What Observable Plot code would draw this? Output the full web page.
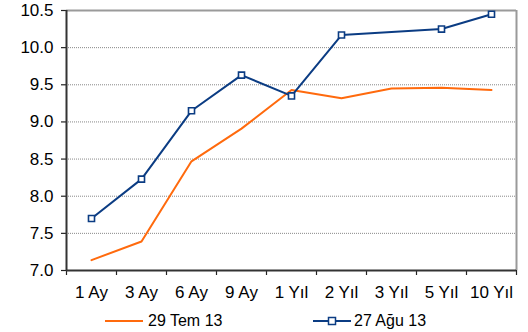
<!DOCTYPE html>
<html><head><meta charset="utf-8">
<script src="https://cdn.jsdelivr.net/npm/d3@7"></script>
<script src="https://cdn.jsdelivr.net/npm/@observablehq/plot@0.6"></script>
<style>
body{margin:0;background:#fff;font-family:Arial,"Liberation Sans",sans-serif;}
#chart{width:528px;height:332px;position:relative;}
svg{display:block;}
#legend{position:relative;height:27px;font-size:16px;color:#000;}
.li{position:absolute;top:2px;height:27px;display:flex;align-items:center;}
</style></head>
<body><div id="chart"></div>
<script>
const categories = ["1 Ay","3 Ay","6 Ay","9 Ay","1 Yıl","2 Yıl","3 Yıl","5 Yıl","10 Yıl"];
const seriesNames = ["29 Tem 13","27 Ağu 13"];
const tem13 = [7.14, 7.39, 8.47, 8.91, 9.43, 9.32, 9.45, 9.46, 9.43];
const agu13 = [7.70, 8.23, 9.15, 9.63, 9.35, 10.17, null, 10.25, 10.45];
const yTicks = [7.0, 7.5, 8.0, 8.5, 9.0, 9.5, 10.0, 10.5];
const colors = ["#ff6a0d", "#0b3c83"];

const rowsA = tem13.map((v,i)=>({i, v})).filter(d=>d.v!=null);
const rowsB = agu13.map((v,i)=>({i, v})).filter(d=>d.v!=null);
const idx = categories.map((c,i)=>i);
const bounds = categories.map((c,i)=>i-0.5).concat([categories.length-0.5]);

const svg = Plot.plot({
  width: 528, height: 305,
  marginLeft: 66, marginRight: 12, marginTop: 10, marginBottom: 35,
  style: {fontFamily: "Arial, 'Liberation Sans', sans-serif", fontSize: "17px", color: "#000", background: "#fff", overflow: "visible"},
  x: {type: "linear", domain: [-0.5, categories.length-0.5]},
  y: {domain: [7, 10.5]},
  marks: [
    Plot.ruleY(yTicks.filter(t=>t>7 && t<10.5), {stroke: "#888", strokeWidth: 1, strokeDasharray: "1,1"}),
    Plot.ruleY([10.5], {stroke: "#9a9a9a", strokeWidth: 2}),
    Plot.ruleX([categories.length-0.5], {stroke: "#9a9a9a", strokeWidth: 2}),
    Plot.axisY({ticks: yTicks, tickFormat: d3.format(".1f"), tickSize: 5, tickPadding: 8, label: null, stroke: "#222", strokeWidth: 1.2}),
    Plot.axisX({ticks: bounds, tickFormat: () => "", tickSize: 5, label: null, stroke: "#222", strokeWidth: 1.2}),
    Plot.axisX({ticks: idx, tickFormat: i => categories[i], tickSize: 0, tickPadding: 15, label: null}),
    Plot.ruleX([-0.5], {stroke: "#333", strokeWidth: 2}),
    Plot.ruleY([7], {stroke: "#333", strokeWidth: 2}),
    Plot.line(rowsA, {x: "i", y: "v", stroke: colors[0], strokeWidth: 2}),
    Plot.line(rowsB, {x: "i", y: "v", stroke: colors[1], strokeWidth: 2}),
    Plot.dot(rowsB, {x: "i", y: "v", symbol: "square", r: 3.4, stroke: colors[1], strokeWidth: 1.6, fill: "#fff"})
  ]
});
const chart = document.getElementById("chart");
chart.appendChild(svg);

const legend = document.createElement("div");
legend.id = "legend";
legend.innerHTML = `
<div class="li" style="left:105px"><svg width="40" height="12"><line x1="0" y1="6" x2="38" y2="6" stroke="${colors[0]}" stroke-width="2"/></svg><span style="margin-left:3px">${seriesNames[0]}</span></div>
<div class="li" style="left:313px"><svg width="40" height="12"><line x1="0" y1="6" x2="38" y2="6" stroke="${colors[1]}" stroke-width="2"/><rect x="15.5" y="2.5" width="7" height="7" fill="#fff" stroke="${colors[1]}" stroke-width="1.5"/></svg><span style="margin-left:1px">${seriesNames[1]}</span></div>`;
chart.appendChild(legend);
</script></body></html>
